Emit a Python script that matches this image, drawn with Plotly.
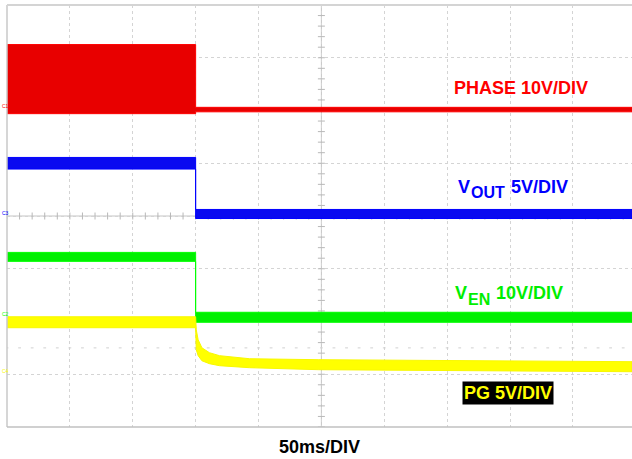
import numpy as np
import plotly.graph_objects as go

# ---------------- data ----------------
# time in ms (50 ms/DIV), voltages in V (min / max envelope of each trace)
phase_t = [0, 150, 150, 497]
phase_hi = [12.3, 12.3, 0.40, 0.40]
phase_lo = [-0.80, -0.80, -0.45, -0.45]

vout_t = [0, 150, 150, 497]
vout_hi = [5.55, 5.55, 0.62, 0.62]
vout_lo = [4.45, 4.45, -0.24, -0.24]

ven_t = [0, 150, 150, 497]
ven_hi = [12.3, 12.3, 0.95, 0.95]
ven_lo = [10.6, 10.6, -0.95, -0.95]

pg_t = [0, 150, 150.5, 152, 155, 161, 169, 193, 248, 352, 497]
pg_hi = [5.40, 5.40, 4.17, 3.22, 2.46, 1.99, 1.71, 1.42, 1.33, 1.23, 1.14]
pg_lo = [4.36, 4.36, 2.27, 1.71, 1.23, 0.95, 0.76, 0.57, 0.38, 0.28, 0.19]

# channel settings: V/DIV and ground-marker position (in divisions from centre)
ch_names = ["PHASE", "VOUT", "VEN", "PG"]
ch_scale = [10, 5, 10, 5]
ch_ground = [2.02, 0.0, -1.92, -2.99]
ch_marker = ["C1", "C3", "C2", "C4"]

time_per_div = 50
x_max = 497
n_div_y = 8

# ---------------- styling ----------------
fill_col = ["#e80000", "#0a0af0", "#00f000", "#ffff00"]
line_col = ["#ff0000", "#0000ff", "#00ff00", "#f8f800"]
text_col = ["#ff0000", "#0000ff", "#00ee00", "#ffff00"]
FONT = "Liberation Sans, Arial, sans-serif"
grid_col = "#d4d4d4"

fig = go.Figure()

series = [(phase_t, phase_hi, phase_lo), (vout_t, vout_hi, vout_lo),
          (pg_t, pg_hi, pg_lo), (ven_t, ven_hi, ven_lo)]
order = [0, 1, 3, 2]
for (t, hi, lo), i in zip(series, order):
    x = list(t) + list(t)[::-1]
    y = list(hi) + list(lo)[::-1]
    fig.add_trace(go.Scatter(
        x=x, y=y, fill="toself", fillcolor=fill_col[i], mode="lines",
        line=dict(color=line_col[i], width=1), yaxis=f"y{i + 2}",
        hoverinfo="skip", showlegend=False))

# centre-axis tick marks
tx = np.arange(0, x_max + 1, time_per_div / 5)
fig.add_trace(go.Scatter(x=tx, y=np.zeros_like(tx), mode="markers",
                         marker=dict(symbol="line-ns", size=5, line=dict(color="#b8b8b8", width=1)),
                         hoverinfo="skip", showlegend=False))
ty = np.arange(-n_div_y / 2, n_div_y / 2 + 0.01, 0.2)
fig.add_trace(go.Scatter(x=np.full_like(ty, 250.0), y=ty, mode="markers",
                         marker=dict(symbol="line-ew", size=5, line=dict(color="#b8b8b8", width=1)),
                         hoverinfo="skip", showlegend=False))
# dotted trigger-level line
fig.add_trace(go.Scatter(x=tx, y=np.full_like(tx, -2.5), mode="markers",
                         marker=dict(symbol="line-ew", size=2, line=dict(color="#d0d0d0", width=1)),
                         hoverinfo="skip", showlegend=False))
# trigger position marker
fig.add_trace(go.Scatter(x=[150], y=[-4.05], mode="markers", cliponaxis=False,
                         marker=dict(symbol="square", size=2, color="#00dd00"),
                         hoverinfo="skip", showlegend=False))

layout_axes = {}
for i in range(4):
    s, g = ch_scale[i], ch_ground[i]
    layout_axes[f"yaxis{i + 2}"] = dict(
        overlaying="y", range=[(-n_div_y / 2 - g) * s, (n_div_y / 2 - g) * s],
        visible=False, fixedrange=True)

fig.update_layout(
    width=632, height=459,
    margin=dict(l=7, r=0, t=5, b=32),
    paper_bgcolor="white", plot_bgcolor="white",
    showlegend=False,
    xaxis=dict(range=[0, x_max], tickvals=list(range(0, x_max, time_per_div)),
               showticklabels=False, ticks="", showgrid=True, gridcolor=grid_col,
               griddash="dot", gridwidth=1, zeroline=False, showline=False),
    yaxis=dict(range=[-n_div_y / 2, n_div_y / 2], tickvals=list(range(-4, 5)),
               showticklabels=False, ticks="", showgrid=True, gridcolor=grid_col,
               griddash="dot", gridwidth=1, zeroline=False, showline=False),
    **layout_axes,
)

# frame and centre lines
shapes = [
    dict(type="line", xref="paper", yref="paper", x0=0, x1=0, y0=0, y1=1,
         line=dict(color="#c8c8c8", width=1.5)),
    dict(type="line", xref="paper", yref="paper", x0=0, x1=1, y0=1, y1=1,
         line=dict(color="#d4d4d4", width=2)),
    dict(type="line", xref="paper", yref="paper", x0=0, x1=1, y0=0, y1=0,
         line=dict(color="#c0c0c0", width=1.5)),
    dict(type="line", xref="paper", yref="y", x0=0, x1=1, y0=0, y1=0,
         line=dict(color="#c4c4c4", width=1), layer="below"),
    dict(type="line", xref="x", yref="paper", x0=250, x1=250, y0=0, y1=1,
         line=dict(color="#c4c4c4", width=1), layer="below"),
]
fig.update_layout(shapes=shapes)

# helper for pixel placement of labels
PL, PT, PW, PH = 7, 5, 625, 422
def px(x):
    return (x - PL) / PW
def py(y):
    return (PT + PH - y) / PH

ann = []
def label(text, x, y, color, size=18, xanchor="left", **kw):
    ann.append(dict(text=f"<b>{text}</b>", x=px(x), y=py(y), xref="paper", yref="paper",
                    xanchor=xanchor, yanchor="middle", showarrow=False,
                    font=dict(family=FONT, size=size, color=color), **kw))

label("PHASE 10V/DIV", 452, 87.5, text_col[0])
label("V", 456, 187, text_col[1])
label("OUT", 469, 192, text_col[1], size=16)
label("5V/DIV", 509, 187, text_col[1])
label("V", 453, 293, text_col[2])
label("EN", 466, 299, text_col[2], size=16)
label("10V/DIV", 494, 293, text_col[2])
label("PG 5V/DIV", 508, 393, text_col[3], xanchor="center", bgcolor="black", borderpad=1)
label("50ms/DIV", 319, 447, "black", xanchor="center")

# channel ground markers on the left edge
for i in range(4):
    ann.append(dict(text=ch_marker[i], x=px(1), y=0, xref="paper", yref=f"y{i + 2}",
                    xanchor="left", yanchor="middle", yshift=3, showarrow=False,
                    borderpad=0,
                    font=dict(family=FONT, size=5, color=line_col[i])))
fig.update_layout(annotations=ann)

fig.write_html("out.html",
               config={"displayModeBar": False, "staticPlot": True},
               post_script="document.body.style.margin='0';document.body.style.padding='0';"
                           "document.body.style.overflow='hidden';")
